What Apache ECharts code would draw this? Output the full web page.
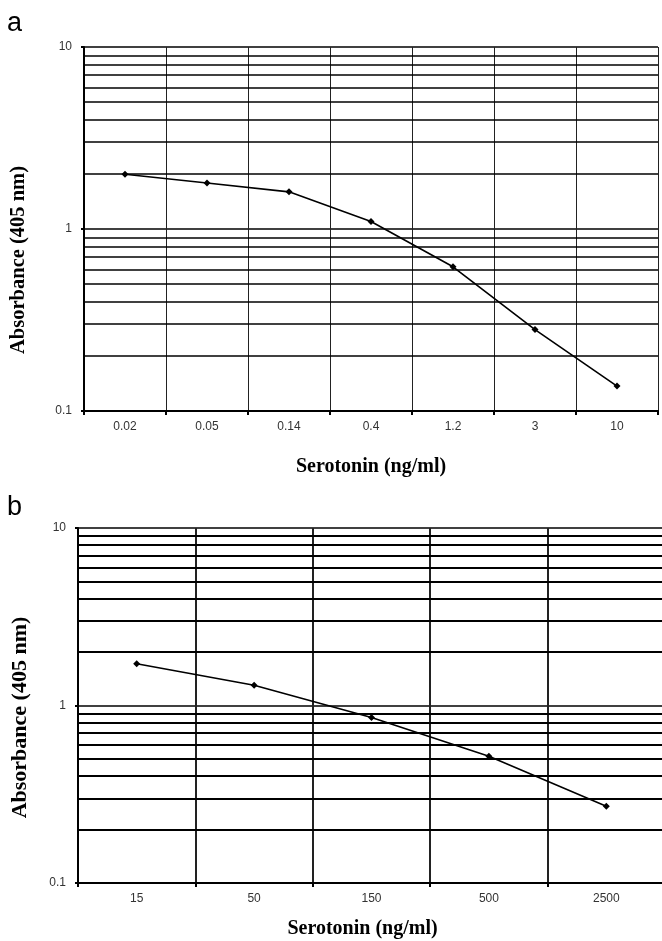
<!DOCTYPE html>
<html>
<head>
<meta charset="utf-8">
<script src="https://cdn.jsdelivr.net/npm/echarts@6/dist/echarts.min.js"></script>
<style>
  html, body { margin: 0; padding: 0; background: #fff; }
  #chart { width: 662px; height: 941px; }
</style>
</head>
<body>
<div id="chart"></div>
<script>
// panel a
const catsA = ["0.02", "0.05", "0.14", "0.4", "1.2", "3", "10"];
const absA = [2.0, 1.79, 1.6, 1.1, 0.62, 0.28, 0.137];
// panel b
const catsB = ["15", "50", "150", "500", "2500"];
const absB = [1.72, 1.3, 0.855, 0.517, 0.271];
// minor horizontal grid lines of the log axis
const minorLines = [0.2, 0.3, 0.4, 0.5, 0.6, 0.7, 0.8, 0.9, 2, 3, 4, 5, 6, 7, 8, 9];

let chart = echarts.init(document.getElementById("chart"), null, { renderer: "canvas" });

function minorMarks(width) {
  return {
    silent: true,
    symbol: ["none", "none"],
    label: { show: false },
    lineStyle: { color: "#000", width: width, type: "solid" },
    animation: false,
    data: minorLines.map(v => ({ yAxis: v }))
  };
}

function xAx(idx, cats, vWidth, gap, shift) {
  return {
    gridIndex: idx,
    type: "category",
    data: cats,
    boundaryGap: true,
    axisLine: { lineStyle: { color: "#000", width: 2 } },
    axisTick: { show: true, length: 4, lineStyle: { color: "#000", width: 2 } },
    axisLabel: { color: "#333", fontSize: 12, fontFamily: "Liberation Sans", margin: 10 },
    splitLine: { show: true, lineStyle: { color: "#222", width: vWidth } },
    name: "Serotonin (ng/ml)",
    nameLocation: "middle",
    nameGap: gap,
    nameTextStyle: { color: "#000", fontSize: 20, fontWeight: "bold", fontFamily: "Liberation Serif", padding: [0, shift, 0, 0] }
  };
}

function yAx(idx, gap, shift, size) {
  return {
    gridIndex: idx,
    type: "log",
    logBase: 10,
    min: 0.1,
    max: 10,
    axisLine: { show: true, lineStyle: { color: "#000", width: 2 } },
    axisTick: { show: true, length: 3, lineStyle: { color: "#000", width: 2 } },
    axisLabel: { color: "#333", fontSize: 12, fontFamily: "Liberation Sans", margin: 12 },
    splitLine: { show: true, lineStyle: { color: "#000", width: 1.5 } },
    minorTick: { show: false },
    name: "Absorbance (405 nm)",
    nameLocation: "middle",
    nameGap: gap,
    nameTextStyle: { color: "#000", fontSize: size, fontWeight: "bold", fontFamily: "Liberation Serif", padding: [0, shift, 0, 0] }
  };
}

function lineSeries(idx, data, width) {
  return {
    type: "line",
    xAxisIndex: idx,
    yAxisIndex: idx,
    data: data,
    symbol: "diamond",
    symbolSize: 7,
    itemStyle: { color: "#000" },
    lineStyle: { color: "#000", width: 1.6 },
    animation: false,
    z: 5,
    markLine: minorMarks(width)
  };
}

chart.setOption({
  backgroundColor: "#fff",
  animation: false,
  graphic: [
    { type: "text", left: 7, top: 10, style: { text: "a", fontSize: 27, fontFamily: "Liberation Sans", fill: "#000" } },
    { type: "text", left: 7, top: 494, style: { text: "b", fontSize: 27, fontFamily: "Liberation Sans", fill: "#000" } }
  ],
  grid: [
    { left: 84, top: 47, width: 574, height: 364, outerBoundsMode: "none", containLabel: false },
    { left: 78, top: 528, width: 587, height: 355, outerBoundsMode: "none", containLabel: false }
  ],
  xAxis: [xAx(0, catsA, 1, 46, 0), xAx(1, catsB, 2, 36, 18)],
  yAxis: [yAx(0, 55, 62, 20.5), yAx(1, 47, 24, 22)],
  series: [lineSeries(0, absA, 1.5), lineSeries(1, absB, 2)]
});
</script>
</body>
</html>
